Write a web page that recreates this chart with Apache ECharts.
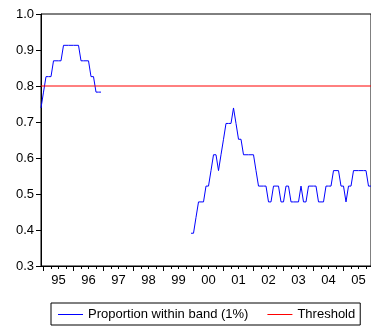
<!DOCTYPE html>
<html>
<head>
<meta charset="utf-8">
<script src="https://cdn.jsdelivr.net/npm/echarts@6/dist/echarts.min.js"></script>
<style>
  html, body { margin: 0; padding: 0; background: #fff; }
  #chart { width: 371px; height: 327px; }
</style>
</head>
<body>
<div id="chart"></div>
<script>
// monthly observations, 1994M12 .. 2005M12
var months = [];
for (var y = 1994; y <= 2005; y++) {
  for (var m = 1; m <= 12; m++) {
    if (y === 1994 && m < 12) continue;
    months.push(y + "-" + (m < 10 ? "0" + m : m));
  }
}

var proportion = [
  0.739, 0.783, 0.826, 0.826, 0.826, 0.870, 0.870, 0.870, 0.870,
  0.913, 0.913, 0.913, 0.913, 0.913, 0.913, 0.913,
  0.870, 0.870, 0.870, 0.870, 0.826, 0.826, 0.783, 0.783, 0.783,
  null, null, null, null, null, null, null, null, null, null,
  null, null, null, null, null, null, null, null, null, null,
  null, null, null, null, null, null, null, null, null, null,
  null, null, null, null, null,
  0.391, 0.391, 0.435, 0.478, 0.478, 0.478, 0.522, 0.522, 0.565,
  0.609, 0.609, 0.565, 0.609, 0.652, 0.696, 0.696, 0.696, 0.739,
  0.696, 0.652, 0.652, 0.609, 0.609, 0.609, 0.609, 0.609, 0.565,
  0.522, 0.522, 0.522, 0.522, 0.478, 0.478, 0.522, 0.522, 0.522,
  0.478, 0.478, 0.522, 0.522, 0.478, 0.478, 0.478, 0.478, 0.522,
  0.478, 0.478, 0.522, 0.522, 0.522, 0.522, 0.478, 0.478, 0.478,
  0.522, 0.522, 0.522, 0.565, 0.565, 0.565, 0.522, 0.522, 0.478,
  0.522, 0.522, 0.565, 0.565, 0.565, 0.565, 0.565, 0.565, 0.522, 0.522
];

var threshold = 0.8;
var yTicks = [0.3, 0.4, 0.5, 0.6, 0.7, 0.8, 0.9, 1.0];

var font = "'Liberation Sans', Arial, sans-serif";
var chart = echarts.init(document.getElementById("chart"));

chart.setOption({
  animation: false,
  textStyle: { fontFamily: font },
  grid: {
    left: 41,
    right: -1,
    top: 14,
    bottom: 61,
    show: true,
    borderColor: "#000",
    borderWidth: 1
  },
  legend: {
    left: 51,
    top: 303,
    padding: [5, 5, 4, 7],
    borderColor: "#000",
    borderWidth: 1,
    icon: "rect",
    itemWidth: 25,
    itemHeight: 1,
    itemGap: 19,
    textStyle: { fontSize: 13, color: "#000", fontFamily: font },
    data: ["Proportion within band (1%)", "Threshold"]
  },
  xAxis: [
    {
      type: "category",
      data: months,
      boundaryGap: false,
      axisLine: { lineStyle: { color: "#000", width: 1 } },
      // year ticks at January
      axisTick: {
        length: 5,
        lineStyle: { color: "#000" },
        interval: function (i) { return i % 12 === 1; }
      },
      // year label at mid-year
      axisLabel: {
        margin: 8,
        fontSize: 13,
        color: "#000",
        fontFamily: font,
        interval: function (i) { return i % 12 === 7; },
        formatter: function (v) { return v.slice(2, 4); }
      },
      splitLine: { show: false }
    },
    {
      type: "category",
      data: months,
      boundaryGap: false,
      position: "bottom",
      axisLine: { show: false },
      // quarterly minor ticks
      axisTick: {
        length: 3,
        lineStyle: { color: "#000" },
        interval: function (i) { return i % 3 === 1; }
      },
      axisLabel: { show: false },
      splitLine: { show: false }
    }
  ],
  yAxis: {
    type: "value",
    min: yTicks[0],
    max: yTicks[yTicks.length - 1],
    interval: 0.1,
    axisLine: { show: true, lineStyle: { color: "#000" } },
    axisTick: { show: true, length: 5, lineStyle: { color: "#000" } },
    axisLabel: {
      margin: 7,
      fontSize: 13,
      color: "#000",
      fontFamily: font,
      formatter: function (v) { return v.toFixed(1); }
    },
    splitLine: { show: false }
  },
  series: [
    {
      name: "Proportion within band (1%)",
      type: "line",
      data: proportion,
      symbol: "none",
      connectNulls: false,
      lineStyle: { color: "#0000ff", width: 1 },
      itemStyle: { color: "#0000ff" }
    },
    {
      name: "Threshold",
      type: "line",
      data: [[months[0], threshold], [months[months.length - 1], threshold]],
      symbol: "none",
      lineStyle: { color: "#ff0000", width: 1 },
      itemStyle: { color: "#ff0000" }
    }
  ]
});
</script>
</body>
</html>
